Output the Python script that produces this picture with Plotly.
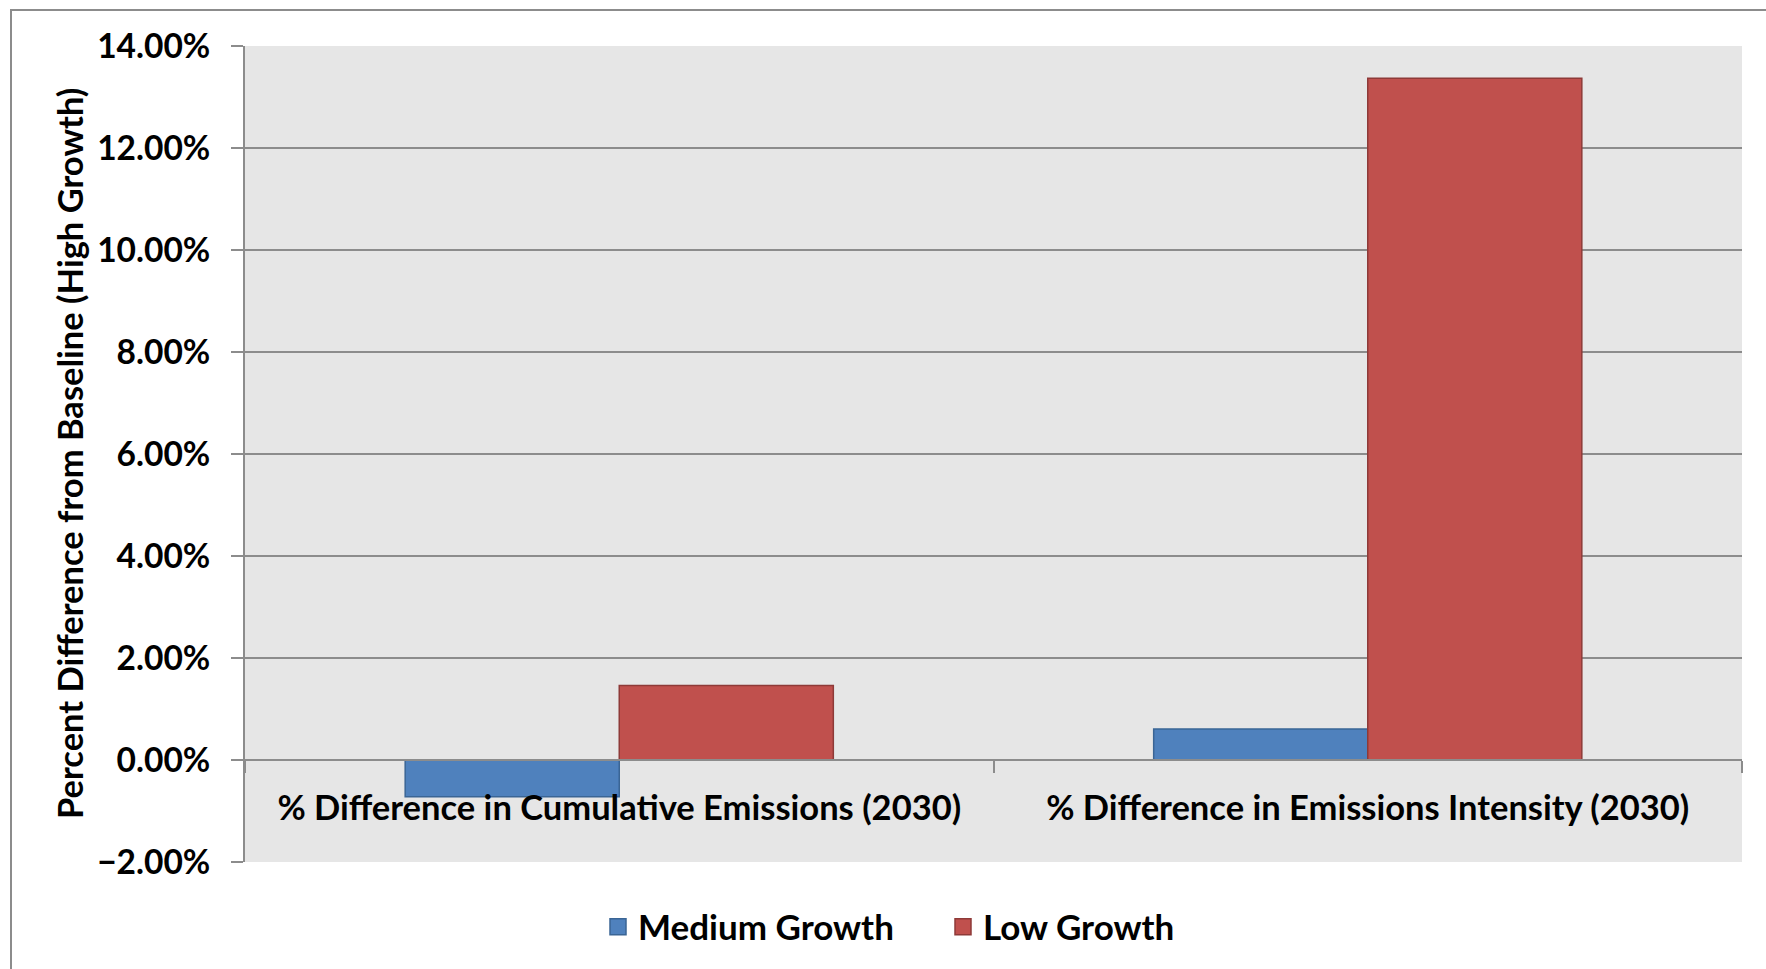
import plotly.graph_objects as go

categories = ["% Difference in Cumulative Emissions (2030)",
              "% Difference in Emissions Intensity (2030)"]
medium_growth = [-0.0072, 0.0061]
low_growth = [0.0146, 0.1337]
series_names = ["Medium Growth", "Low Growth"]
y_ticks = [-0.02, 0.0, 0.02, 0.04, 0.06, 0.08, 0.10, 0.12, 0.14]

W, H = 1766, 969
L, R, T, B = 245, 24, 46, 107
FONT = "Lato"
GRID = "#8C8C8C"
colors = ["#4F81BD", "#C0504D"]
edges = ["#3A6595", "#8E3A38"]

fig = go.Figure()
for name, vals, c, e in zip(series_names, [medium_growth, low_growth], colors, edges):
    fig.add_trace(go.Bar(x=categories, y=vals, name=name, showlegend=False,
                         marker=dict(color=c, line=dict(color=e, width=1.5))))
# legend entries (square swatches)
for name, c, e in zip(series_names, colors, edges):
    fig.add_trace(go.Scatter(x=[None], y=[None], name=name, mode="markers",
                             marker=dict(symbol="square", size=16, color=c,
                                         line=dict(color=e, width=1.5))))

pw = W - L - R
ph = H - T - B
zero_frac = (0 - y_ticks[0]) / (y_ticks[-1] - y_ticks[0])


def px_x(px):
    return (px - L) / pw


def px_y(py):
    return (H - B - py) / ph


fig.update_layout(
    width=W, height=H,
    margin=dict(l=L, r=R, t=T, b=B, pad=0, autoexpand=False),
    paper_bgcolor="white",
    plot_bgcolor="#E6E6E6",
    barmode="group", bargap=0.428, bargroupgap=0,
    font=dict(family=FONT, size=34, color="black"),
    showlegend=True,
    legend=dict(orientation="h", xref="container", yref="container",
                x=598 / W, y=1 - 927 / H, xanchor="left", yanchor="middle",
                font=dict(family=FONT, size=35, color="black", weight="bold"),
                itemwidth=30, entrywidth=300, traceorder="normal",
                bgcolor="rgba(0,0,0,0)"),
    xaxis=dict(anchor="free", position=zero_frac, showline=True, linecolor=GRID, linewidth=2,
               ticks="outside", tickson="boundaries", ticklen=12, tickwidth=2, tickcolor=GRID,
               tickfont=dict(family=FONT, size=34.5, weight="bold"), ticklabelstandoff=18,
               showgrid=False, zeroline=False, automargin=False, fixedrange=True),
    yaxis=dict(range=[y_ticks[0], y_ticks[-1]], tickvals=y_ticks, tickformat=".2%",
               showline=True, linecolor=GRID, linewidth=2,
               ticks="outside", ticklen=12, tickwidth=2, tickcolor=GRID,
               tickfont=dict(family=FONT, size=33.5, weight="bold"), ticklabelstandoff=14,
               showgrid=True, gridcolor=GRID, gridwidth=2, zeroline=False,
               automargin=False, fixedrange=True),
)

# outer chart border
fig.add_shape(type="rect", xref="paper", yref="paper",
              x0=px_x(11), x1=px_x(W + 20), y0=px_y(H + 20), y1=px_y(10),
              line=dict(color="#8C8C8C", width=2), fillcolor="rgba(0,0,0,0)", layer="below")

fig.add_annotation(text="Percent Difference from Baseline (High Growth)",
                   xref="paper", yref="paper", x=px_x(69), y=px_y(454),
                   textangle=-90, showarrow=False, xanchor="center", yanchor="middle",
                   font=dict(family=FONT, size=34.5, weight="bold", color="black"))

fig.write_html("out.html")
